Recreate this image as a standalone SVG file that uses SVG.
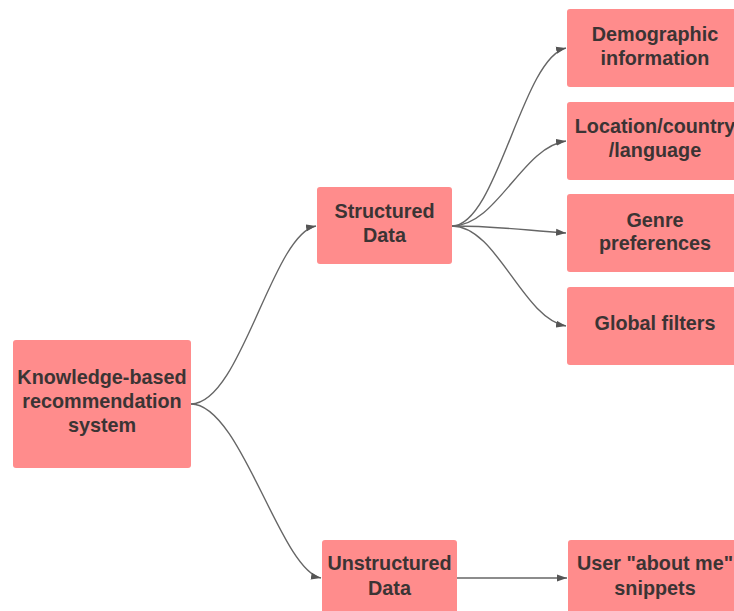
<svg xmlns="http://www.w3.org/2000/svg" width="734" height="611" viewBox="0 0 734 611">
  <style>
    .box { fill: #ff8c8c; }
    .label { font-family: "Liberation Sans", Arial, sans-serif; font-weight: bold; font-size: 19.8px; fill: #3b3434; text-anchor: middle; }
    .edge { fill: none; stroke: #666666; stroke-width: 1.4; marker-end: url(#arrow); }
  </style>
  <defs>
    <marker id="arrow" markerUnits="userSpaceOnUse" markerWidth="11" markerHeight="8" refX="10" refY="4" orient="auto">
      <path d="M0,0.5 L10,4 L0,7.5 z" fill="#555555"/>
    </marker>
  </defs>
  <rect width="734" height="611" fill="#ffffff"/>

  <!-- connectors -->
  <g id="connectors">
    <path class="edge" d="M191,404 C241,404 272,234 316,226"/>
    <path class="edge" d="M191,404 C241,404 280,570 321,578"/>
    <path class="edge" d="M452,226 C497,226 522,58 566,48"/>
    <path class="edge" d="M452,226 C497,226 522,147 566,141"/>
    <path class="edge" d="M452,226 C497,226 522,230 566,233"/>
    <path class="edge" d="M452,226 C497,226 522,318 566,326"/>
    <path class="edge" d="M457,578 L567,578"/>
  </g>

  <!-- nodes -->
  <g id="node-kbrs">
    <rect class="box" x="13" y="340" width="178" height="128" rx="3"/>
    <text class="label" x="102" y="384">Knowledge-based</text>
    <text class="label" x="102" y="408">recommendation</text>
    <text class="label" x="102" y="432">system</text>
  </g>
  <g id="node-structured">
    <rect class="box" x="317" y="187" width="135" height="77" rx="3"/>
    <text class="label" x="384.5" y="218">Structured</text>
    <text class="label" x="384.5" y="242">Data</text>
  </g>
  <g id="node-unstructured">
    <rect class="box" x="322" y="540" width="135" height="77" rx="3"/>
    <text class="label" x="389.5" y="570">Unstructured</text>
    <text class="label" x="389.5" y="595">Data</text>
  </g>
  <g id="node-demographic">
    <rect class="box" x="567" y="9" width="176" height="78" rx="3"/>
    <text class="label" x="655" y="41">Demographic</text>
    <text class="label" x="655" y="65">information</text>
  </g>
  <g id="node-location">
    <rect class="box" x="567" y="102" width="176" height="78" rx="3"/>
    <text class="label" x="655" y="133">Location/country</text>
    <text class="label" x="655" y="157">/language</text>
  </g>
  <g id="node-genre">
    <rect class="box" x="567" y="194" width="176" height="78" rx="3"/>
    <text class="label" x="655" y="227">Genre</text>
    <text class="label" x="655" y="250">preferences</text>
  </g>
  <g id="node-global">
    <rect class="box" x="567" y="287" width="176" height="78" rx="3"/>
    <text class="label" x="655" y="330">Global filters</text>
  </g>
  <g id="node-user">
    <rect class="box" x="568" y="540" width="176" height="77" rx="3"/>
    <text class="label" x="655" y="570">User "about me"</text>
    <text class="label" x="655" y="595">snippets</text>
  </g>
</svg>
